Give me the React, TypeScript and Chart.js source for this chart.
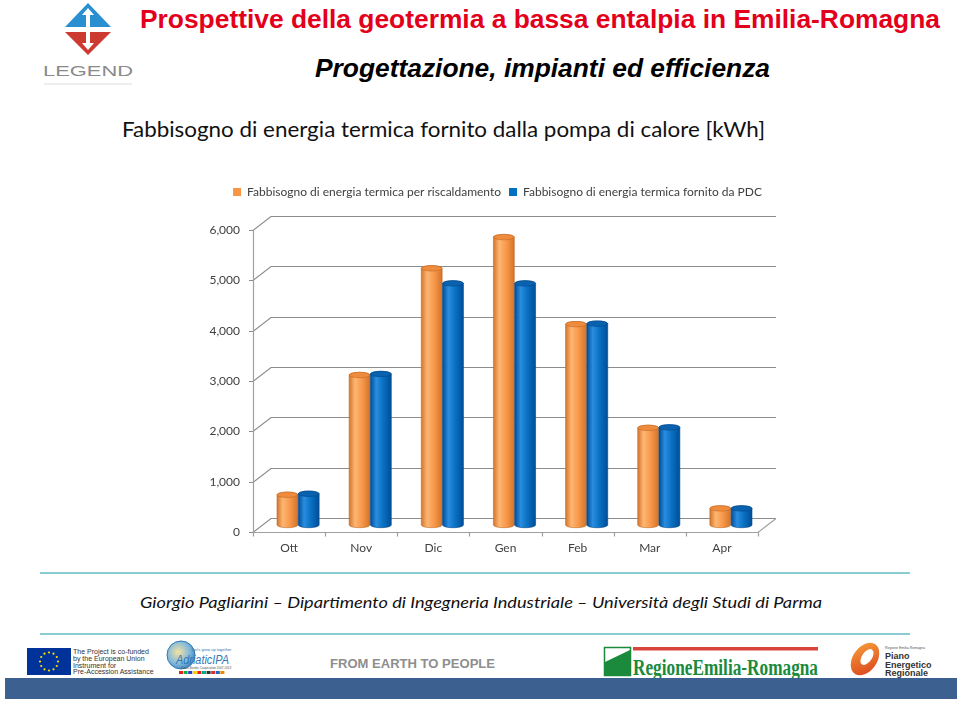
import React, { useEffect, useRef } from 'react';
import { Chart, registerables } from 'chart.js';

Chart.register(...registerables);

// ---- data ----
const months = ['Ott', 'Nov', 'Dic', 'Gen', 'Feb', 'Mar', 'Apr'];
const heatingDemand = [600, 2980, 5100, 5720, 3990, 1930, 330];
const pdcSupplied = [620, 3000, 4800, 4800, 4000, 1940, 330];
const yTicks = [0, 1000, 2000, 3000, 4000, 5000, 6000];
const seriesNames = [
  'Fabbisogno di energia termica per riscaldamento',
  'Fabbisogno di energia termica fornito da PDC',
];
const seriesColors = ['#f79646', '#0070c0'];

// ---- styling ----
const DX = 18;
const DY = -14;
const LEGEND_CENTER = 302.5; // canvas px
const PAL = [
  { edge: '#d5742a', light: '#fdb673', mid: '#f89a4c', top: '#ee8b3c', rim: '#c46a24' },
  { edge: '#004e98', light: '#2a8de0', mid: '#0a71c2', top: '#0a62ae', rim: '#00478c' },
];
const CHART_FONT = 'Lato, "Open Sans", sans-serif';

function cylinder(ctx: CanvasRenderingContext2D, cx: number, top: number, bottom: number, w: number, c: any) {
  const l = cx - w / 2;
  const r = cx + w / 2;
  const ry = Math.max(2, w * 0.13);
  const g = ctx.createLinearGradient(l, 0, r, 0);
  g.addColorStop(0, c.edge);
  g.addColorStop(0.28, c.light);
  g.addColorStop(0.6, c.mid);
  g.addColorStop(1, c.edge);
  ctx.fillStyle = g;
  ctx.beginPath();
  ctx.moveTo(l, top);
  ctx.lineTo(l, bottom);
  ctx.ellipse(cx, bottom, w / 2, ry, 0, Math.PI, 0, true);
  ctx.lineTo(r, top);
  ctx.ellipse(cx, top, w / 2, ry, 0, 0, Math.PI, true);
  ctx.closePath();
  ctx.fill();
  ctx.strokeStyle = c.rim;
  ctx.lineWidth = 0.6;
  ctx.stroke();
  ctx.beginPath();
  ctx.ellipse(cx, top, w / 2, ry, 0, 0, Math.PI * 2);
  ctx.fillStyle = c.top;
  ctx.fill();
  ctx.stroke();
}

const legendSpacer = {
  id: 'legendSpacer',
  beforeInit(chart: any) {
    const legend = chart.legend;
    if (legend) {
      const orig = legend.fit;
      legend.fit = function () {
        this.maxWidth = Math.max(this.maxWidth || 0, 700);
        orig.call(this);
        this.height += 22;
      };
    }
  },
  afterLayout(chart: any) {
    const legend = chart.legend;
    if (legend) {
      legend.left = LEGEND_CENTER - 300;
      legend.right = LEGEND_CENTER + 300;
      legend.width = 600;
    }
  },
};

const bars3d = {
  id: 'bars3d',
  beforeDatasetsDraw(chart: any) {
    const { ctx, chartArea: a, scales } = chart;
    const x = scales.x;
    const y = scales.y;
    const y0 = Math.round(y.getPixelForValue(0)) + 0.5;
    const yTop = y.getPixelForValue(yTicks[yTicks.length - 1]);
    ctx.save();
    // back wall gridlines + left wall diagonals
    ctx.strokeStyle = '#8c8c8c';
    ctx.lineWidth = 1.2;
    yTicks.forEach((v) => {
      const py = Math.round(y.getPixelForValue(v)) + 0.5;
      ctx.beginPath();
      ctx.moveTo(a.left - 4, py);
      ctx.lineTo(a.left, py);
      ctx.lineTo(a.left + DX, py + DY);
      ctx.lineTo(a.right + DX, py + DY);
      ctx.stroke();
    });
    // front vertical axis
    ctx.strokeStyle = '#a0a0a0';
    ctx.beginPath();
    ctx.moveTo(a.left + 0.5, yTop);
    ctx.lineTo(a.left + 0.5, y0);
    ctx.stroke();
    // floor front edge, ticks and right diagonal
    const half = (x.getPixelForValue(1) - x.getPixelForValue(0)) / 2;
    ctx.beginPath();
    ctx.moveTo(a.left, y0);
    ctx.lineTo(a.right, y0);
    ctx.lineTo(a.right + DX, y0 + DY);
    for (let i = 0; i <= months.length; i++) {
      const px = Math.round(x.getPixelForValue(i) - half) + 0.5;
      ctx.moveTo(px, y0);
      ctx.lineTo(px, y0 + 4);
    }
    ctx.stroke();
    // cylinders
    months.forEach((_, i) => {
      chart.data.datasets.forEach((_ds: any, di: number) => {
        const el = chart.getDatasetMeta(di).data[i];
        const p = el.getProps(['x', 'y', 'base', 'width'], true);
        cylinder(ctx, p.x + DX / 2, p.y + DY / 2, p.base + DY / 2, p.width, PAL[di]);
      });
    });
    ctx.restore();
    return false;
  },
};

function ChartBox() {
  const ref = useRef<HTMLCanvasElement | null>(null);
  useEffect(() => {
    if (!ref.current) return;
    const chart = new Chart(ref.current, {
      type: 'bar',
      data: {
        labels: months,
        datasets: [
          { label: seriesNames[0], data: heatingDemand, backgroundColor: seriesColors[0] },
          { label: seriesNames[1], data: pdcSupplied, backgroundColor: seriesColors[1] },
        ],
      },
      options: {
        responsive: true,
        maintainAspectRatio: false,
        animation: false,
        layout: { padding: { top: 8, right: 47, left: 0, bottom: 0 } },
        datasets: { bar: { categoryPercentage: 0.59, barPercentage: 0.98 } },
        plugins: {
          legend: {
            position: 'top',
            labels: {
              boxWidth: 8,
              boxHeight: 8,
              padding: 8,
              color: '#404040',
              font: { family: CHART_FONT, size: 12 },
            },
          },
          tooltip: { enabled: false },
        },
        scales: {
          x: {
            grid: { display: false, drawTicks: false },
            border: { display: false },
            ticks: { color: '#404040', font: { family: CHART_FONT, size: 12 }, padding: 9 },
            afterFit: (s: any) => {
              s.height = 34;
            },
          },
          y: {
            min: 0,
            max: 6000,
            grid: { display: false, drawTicks: false },
            border: { display: false },
            ticks: {
              stepSize: 1000,
              padding: 13,
              color: '#404040',
              font: { family: CHART_FONT, size: 12 },
              callback: (v: any) => Number(v).toLocaleString('en-US'),
            },
            afterFit: (s: any) => {
              s.width = 58;
            },
          },
        },
      } as any,
      plugins: [legendSpacer, bars3d] as any,
    });
    return () => chart.destroy();
  }, []);
  return (
    <div style={{ position: 'absolute', left: 195, top: 170, width: 610, height: 396 }}>
      <canvas ref={ref} />
    </div>
  );
}

function Slide() {
  const sans = '"Liberation Sans", Arial, sans-serif';
  const stars = Array.from({ length: 12 }, (_, i) => {
    const a = (i / 12) * Math.PI * 2;
    return <circle key={i} cx={49 + 9 * Math.cos(a)} cy={661.5 + 9 * Math.sin(a)} r={1.1} fill="#ffdd00" />;
  });
  const flagColors = ['#d22', '#1a4', '#24c', '#fc0', '#d22', '#0a8', '#333', '#c33', '#26b', '#e80'];
  return (
    <svg width={960} height={701} style={{ position: 'absolute', left: 0, top: 0 }}>
      {/* LEGEND logo */}
      <polygon points="88,3 111,27 65,27" fill="#2a8fd0" />
      <polygon points="65,32 111,32 88,55" fill="#cc3a32" />
      <polygon points="88,8 94,15 90,15 90,27 86,27 86,15 82,15" fill="#fff" />
      <polygon points="88,50 94,43 90,43 90,32 86,32 86,43 82,43" fill="#fff" />
      <text x={43} y={76} fontFamily={sans} fontSize={15} fill="#8a8a8a" textLength={90} lengthAdjust="spacingAndGlyphs">
        LEGEND
      </text>
      <line x1={44} y1={84} x2={132} y2={84} stroke="#dcdcdc" strokeWidth={1} />

      {/* titles */}
      <text x={140} y={28} fontFamily={sans} fontWeight="bold" fontSize={25} fill="#e3001b" textLength={800} lengthAdjust="spacingAndGlyphs">
        Prospettive della geotermia a bassa entalpia in Emilia-Romagna
      </text>
      <text x={315} y={77} fontFamily={sans} fontWeight="bold" fontStyle="italic" fontSize={25} fill="#000" textLength={455} lengthAdjust="spacingAndGlyphs">
        Progettazione, impianti ed efficienza
      </text>
      <text x={122} y={137} fontFamily={CHART_FONT} fontSize={21} fill="#111" textLength={643} lengthAdjust="spacingAndGlyphs">
        Fabbisogno di energia termica fornito dalla pompa di calore [kWh]
      </text>

      {/* separators and author */}
      <line x1={40} y1={573} x2={910} y2={573} stroke="#62bcc4" strokeWidth={1.5} />
      <text x={140} y={608} fontFamily={CHART_FONT} fontStyle="italic" fontSize={16} fill="#111" textLength={682} lengthAdjust="spacingAndGlyphs">
        Giorgio Pagliarini – Dipartimento di Ingegneria Industriale – Università degli Studi di Parma
      </text>
      <line x1={40} y1={634} x2={910} y2={634} stroke="#62bcc4" strokeWidth={1.5} />

      {/* EU flag + text */}
      <rect x={27} y={648} width={44} height={27} fill="#003399" />
      {stars}
      {['The Project is co-funded', 'by the European Union', 'Instrument for', 'Pre-Accession Assistance'].map((t, i) => (
        <text key={t} x={73} y={654 + i * 6.8} fontFamily={sans} fontSize={7} fill="#333">
          {t}
        </text>
      ))}

      {/* Adriatic IPA */}
      <defs>
        <radialGradient id="ipa" cx="0.4" cy="0.4" r="0.7">
          <stop offset="0" stopColor="#f4e3a0" />
          <stop offset="0.6" stopColor="#7fb8dc" />
          <stop offset="1" stopColor="#2f78b8" />
        </radialGradient>
        <linearGradient id="pe" x1="0" y1="0" x2="1" y2="1">
          <stop offset="0" stopColor="#f7a23a" />
          <stop offset="1" stopColor="#d9401c" />
        </linearGradient>
      </defs>
      <ellipse cx={181} cy={655} rx={14} ry={14} fill="url(#ipa)" stroke="#2f78b8" strokeWidth={1} />
      <text x={192} y={651} fontFamily={sans} fontSize={4} fill="#2f78b8">Let's grow up together</text>
      <text x={176} y={664} fontFamily={sans} fontStyle="italic" fontSize={12} fill="#2f78b8" textLength={53} lengthAdjust="spacingAndGlyphs">
        AdriaticIPA
      </text>
      <text x={181} y={669} fontFamily={sans} fontSize={3} fill="#555">Cross-Border Cooperation 2007-2013</text>
      {flagColors.map((c, i) => (
        <rect key={i} x={179 + i * 4.6} y={671} width={4} height={3} fill={c} />
      ))}

      <text x={330} y={668} fontFamily={sans} fontWeight="bold" fontSize={13} fill="#8e8e8e" textLength={165} lengthAdjust="spacingAndGlyphs">
        FROM EARTH TO PEOPLE
      </text>

      {/* Regione Emilia-Romagna */}
      <rect x={604.5} y={647.5} width={26} height={28} fill="#fff" stroke="#1b8a3c" strokeWidth={1.5} />
      <polygon points="605,662 630,650 630,675 605,675" fill="#1b8a3c" />
      <rect x={633} y={647} width={185} height={3.5} fill="#d9453c" />
      <text x={633} y={675} fontFamily={'"Liberation Serif", "DejaVu Serif", serif'} fontWeight="bold" fontSize={24} fill="#1b8a3c" textLength={185} lengthAdjust="spacingAndGlyphs">
        RegioneEmilia-Romagna
      </text>

      {/* Piano Energetico Regionale */}
      <ellipse cx={865} cy={659} rx={12} ry={18} transform="rotate(35 865 659)" fill="url(#pe)" />
      <ellipse cx={867} cy={657} rx={5} ry={9} transform="rotate(35 867 657)" fill="#fff" />
      <text x={885} y={649} fontFamily={sans} fontSize={3.5} fill="#555">Regione Emilia-Romagna</text>
      {['Piano', 'Energetico', 'Regionale'].map((t, i) => (
        <text key={t} x={885} y={659 + i * 8.5} fontFamily={sans} fontWeight="bold" fontSize={9} fill="#333">
          {t}
        </text>
      ))}

      {/* bottom band */}
      <rect x={5} y={678} width={952} height={21} fill="#3c6191" />
    </svg>
  );
}

export default function App() {
  return (
    <div style={{ position: 'absolute', left: 0, top: 0, width: 960, height: 701, background: '#fff', overflow: 'hidden' }}>
      <Slide />
      <ChartBox />
    </div>
  );
}
